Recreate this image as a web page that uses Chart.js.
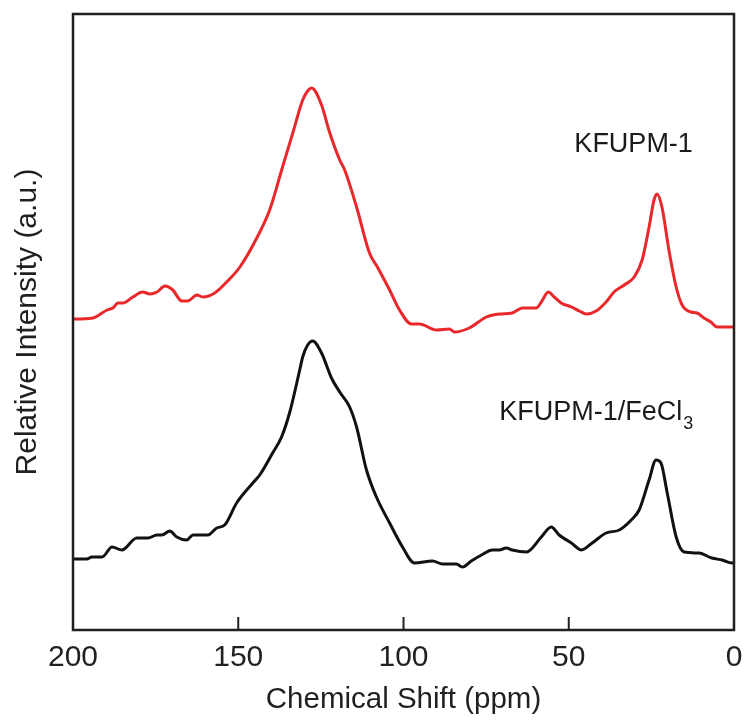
<!DOCTYPE html>
<html>
<head>
<meta charset="utf-8">
<script src="https://cdn.jsdelivr.net/npm/chart.js@4/dist/chart.umd.min.js"></script>
<style>
  html, body { margin: 0; padding: 0; background: #ffffff; }
  #wrap { width: 744px; height: 725px; position: relative; }
</style>
</head>
<body>
<div id="wrap"><canvas id="c" width="744" height="725"></canvas></div>
<script>
// Chemical shift (ppm) and relative intensity (a.u.)
const redShift = [200,199.4,194.0,189.7,187.9,186.4,184.9,181.9,178.9,176.7,174.6,172.2,169.8,167.1,165.3,162.5,160.7,157.1,153.5,149.5,144.4,140.5,136.6,133.5,130.5,129.0,127.8,124.8,122.4,119.3,117.8,114.2,110.3,107.9,104.2,101.2,97.6,95.2,90.0,86.1,84.6,80.1,74.9,71.0,67.1,64.0,59.8,58.3,56.2,54.4,52.3,49.2,46.8,44.7,41.7,38.7,36.3,33.2,30.2,27.8,25.7,24.2,23.3,21.8,19.7,17.5,15.7,13.0,11.2,9.1,7.0,5.1,0.9,0];
const redIntensity = [311,311,312,320,322,327,327,333,338,336,338,344,340,329,329,335,333,337,348,363,392,420,463,497,530,539,542,525,498,470,460,423,377,363,340,320,306,306,300,301,298,302,313,316,317,322,322,328,338,333,327,323,319,316,319,328,338,345,353,370,403,430,436,423,380,343,325,318,317,312,308,303,303,303];

const blackShift = [200,199.4,195.8,194.3,191.2,188.2,185.2,180.7,177.3,174.6,173.1,170.7,168.6,165.6,163.7,159.2,156.5,154.1,150.5,145.6,143.5,139.6,136.9,134.4,131.4,130.5,129.0,127.5,124.8,121.8,119.3,116.3,114.2,111.2,108.2,104.2,100.3,96.7,91.2,88.2,84.0,82.2,79.5,76.4,73.1,71.0,68.9,67.1,62.8,58.3,55.3,52.9,49.2,46.2,42.9,38.7,34.7,31.1,28.7,25.7,23.6,22.1,20.2,17.5,15.1,10.6,6.7,3.6,0.6,0];
const blackIntensity = [71,71,71,73,73,83,80,92,92,95,95,99,93,90,95,95,102,105,127,147,155,177,193,218,260,273,285,289,277,252,238,223,203,160,133,107,83,67,69,66,66,63,69,75,80,80,82,80,78,93,103,95,87,80,87,97,100,110,120,150,170,167,137,93,78,77,72,70,67,67];

const xTicks = [200,150,100,50,0];
const seriesNames = ['KFUPM-1','KFUPM-1/FeCl'];
const labelPos = [[48.3,485],[71.0,217]];

const toPts = (xs, ys) => xs.map((x, i) => ({x: x, y: ys[i]}));

const FONT = '"Liberation Sans", Arial, sans-serif';
const INK = '#231f20';

const framePlugin = {
  id: 'frame',
  afterDatasetsDraw(chart) {
    const {ctx, chartArea: a, scales} = chart;
    ctx.save();
    ctx.strokeStyle = INK;
    ctx.lineWidth = 2.5;
    ctx.strokeRect(a.left, a.top, a.right - a.left, a.bottom - a.top);
    ctx.lineWidth = 2;
    xTicks.forEach(v => {
      if (v === 0 || v === 200) return;
      const px = scales.x.getPixelForValue(v);
      ctx.beginPath();
      ctx.moveTo(px, a.bottom);
      ctx.lineTo(px, a.bottom - 13);
      ctx.stroke();
    });
    ctx.fillStyle = '#1a1a1a';
    ctx.textBaseline = 'middle';
    ctx.textAlign = 'left';
    ctx.font = '27px ' + FONT;
    let p = labelPos[0];
    ctx.fillText(seriesNames[0], scales.x.getPixelForValue(p[0]), scales.y.getPixelForValue(p[1]));
    p = labelPos[1];
    const lx = scales.x.getPixelForValue(p[0]);
    const ly = scales.y.getPixelForValue(p[1]);
    ctx.fillText(seriesNames[1], lx, ly);
    const w = ctx.measureText(seriesNames[1]).width;
    ctx.font = '18px ' + FONT;
    ctx.fillText('3', lx + w + 1, ly + 11);
    ctx.restore();
  }
};

new Chart(document.getElementById('c'), {
  type: 'line',
  data: {
    datasets: [
      { label: 'KFUPM-1', data: toPts(redShift, redIntensity), borderColor: '#e8282b', borderWidth: 3, pointRadius: 0, cubicInterpolationMode: 'monotone', fill: false },
      { label: 'KFUPM-1/FeCl3', data: toPts(blackShift, blackIntensity), borderColor: '#111111', borderWidth: 3, pointRadius: 0, cubicInterpolationMode: 'monotone', fill: false }
    ]
  },
  options: {
    responsive: false,
    animation: false,
    layout: { padding: { top: 14, right: 0, left: 0, bottom: 0 } },
    plugins: { legend: { display: false }, tooltip: { enabled: false } },
    scales: {
      x: {
        type: 'linear', min: 0, max: 200, reverse: true,
        grid: { display: false, drawTicks: false },
        border: { display: false },
        ticks: { stepSize: 50, color: INK, font: { family: FONT, size: 30 }, padding: 10, maxRotation: 0 },
        title: { display: true, text: 'Chemical Shift (ppm)', color: INK, font: { family: FONT, size: 29.5 }, padding: { top: 0, bottom: 7 } },
        afterFit(s) { s.height = 95; s.paddingRight = 10; s.paddingLeft = 0; }
      },
      y: {
        min: 0, max: 616,
        grid: { display: false, drawTicks: false },
        border: { display: false },
        ticks: { display: false },
        title: { display: true, text: 'Relative Intensity (a.u.)', color: INK, font: { family: FONT, size: 30 }, padding: { top: 10, bottom: 0 } },
        afterFit(s) { s.width = 73; }
      }
    }
  },
  plugins: [framePlugin]
});
</script>
</body>
</html>
